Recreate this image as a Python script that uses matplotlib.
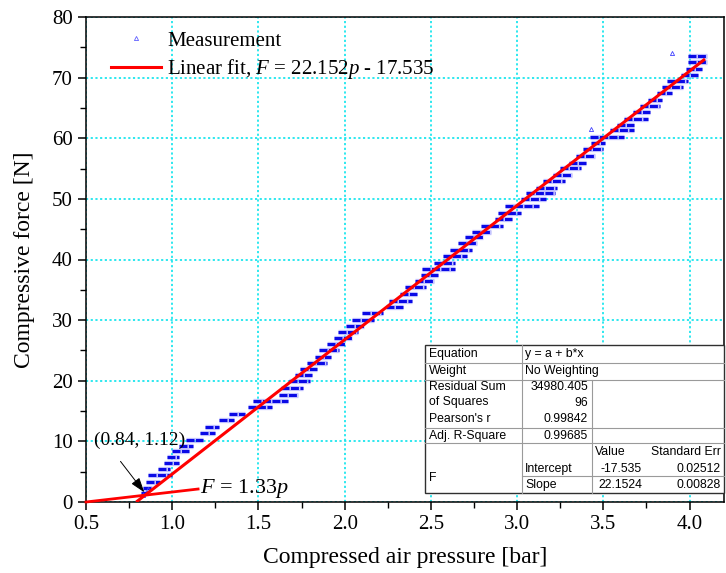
import matplotlib
matplotlib.use("Agg")
import matplotlib.pyplot as plt
from matplotlib.lines import Line2D
from matplotlib.patches import Rectangle
from matplotlib.ticker import MultipleLocator, FormatStrFormatter

plt.rcParams['font.family'] = ['Liberation Serif', 'DejaVu Serif']
plt.rcParams['mathtext.fontset'] = 'custom'
plt.rcParams['mathtext.rm'] = 'Liberation Serif'
plt.rcParams['mathtext.it'] = 'Liberation Serif:italic'

# ---- measured staircase: force level held while pressure ramps ----
step_force = [1.5, 2.3, 3.35, 4.4, 5.45, 6.4, 7.4, 8.35, 9.3, 10.3,
              11.4, 12.4, 13.5, 14.5, 15.6, 16.7, 17.7, 18.8, 19.9, 21.0,
              21.9, 23.0, 24.0, 25.0, 26.0, 27.0, 28.0, 29.1, 30.1, 31.1,
              32.2, 33.2, 34.3, 35.4, 36.5, 37.4, 38.4, 39.5, 40.6, 41.6,
              42.7, 43.7, 44.6, 45.6, 46.6, 47.7, 48.8, 49.9, 50.9, 51.8,
              52.9, 54.0, 55.1, 56.0, 57.1, 58.2, 59.2, 60.2, 61.3, 62.2,
              63.2, 64.3, 65.4, 66.3, 67.4, 68.5, 69.4, 70.4, 71.5, 72.5,
              73.6]
step_p_start = [0.82, 0.83, 0.85, 0.86, 0.92, 0.95, 0.97, 1.00, 1.04, 1.08,
                1.16, 1.19, 1.27, 1.33, 1.44, 1.47, 1.62, 1.63, 1.68, 1.71,
                1.74, 1.78, 1.83, 1.85, 1.90, 1.94, 1.96, 2.01, 2.04, 2.10,
                2.24, 2.26, 2.32, 2.35, 2.41, 2.44, 2.45, 2.52, 2.57, 2.61,
                2.66, 2.70, 2.74, 2.79, 2.87, 2.89, 2.93, 3.02, 3.05, 3.11,
                3.15, 3.21, 3.25, 3.30, 3.34, 3.38, 3.43, 3.42, 3.54, 3.58,
                3.62, 3.67, 3.71, 3.76, 3.81, 3.84, 3.87, 3.95, 3.98, 3.99,
                3.99]
step_p_end = [0.86, 0.88, 0.93, 1.00, 0.99, 1.04, 1.04, 1.10, 1.12, 1.18,
              1.25, 1.27, 1.36, 1.42, 1.58, 1.67, 1.73, 1.76, 1.80, 1.81,
              1.84, 1.90, 1.92, 1.97, 2.00, 2.04, 2.08, 2.11, 2.17, 2.22,
              2.34, 2.39, 2.42, 2.47, 2.52, 2.54, 2.64, 2.64, 2.71, 2.74,
              2.77, 2.80, 2.85, 2.92, 2.97, 3.02, 3.13, 3.17, 3.22, 3.23,
              3.28, 3.32, 3.37, 3.40, 3.45, 3.50, 3.51, 3.62, 3.68, 3.68,
              3.76, 3.77, 3.83, 3.84, 3.90, 3.96, 3.99, 4.05, 4.07, 4.10,
              4.10]
# isolated readings
single_p = [0.83, 0.86, 3.43, 3.90]
single_F = [1.2, 2.2, 61.5, 74.0]

# ---- linear fit ----
fit_slope = 22.152
fit_intercept = -17.535
fit_p = [0.7916, 4.09]

# ---- low-pressure branch and knee ----
knee_p, knee_F = 0.84, 1.12
low_p = [0.5, knee_p, 1.15]
low_F = [0.0, knee_F, knee_F / (knee_p - 0.5) * (1.15 - 0.5)]

# ---- fit report ----
table_rows = [("Equation", "y = a + b*x"),
              ("Weight", "No Weighting")]
rss_text = ["34980.405", "96"]
pearson_r = "0.99842"
adj_r2 = "0.99685"
param_names = ["Intercept", "Slope"]
param_values = ["-17.535", "22.1524"]
param_errors = ["0.02512", "0.00828"]

W, H = 726, 573
fig = plt.figure(figsize=(W / 100, H / 100), dpi=100)
ax_l, ax_r, ax_t, ax_b = 86, 724, 17, 502
ax = fig.add_axes([ax_l / W, 1 - ax_b / H, (ax_r - ax_l) / W, (ax_b - ax_t) / H])

ax.set_xlim(0.5, 4.2)
ax.set_ylim(0, 80)
ax.xaxis.set_major_locator(MultipleLocator(0.5))
ax.xaxis.set_minor_locator(MultipleLocator(0.25))
ax.yaxis.set_major_locator(MultipleLocator(10))
ax.yaxis.set_minor_locator(MultipleLocator(5))
ax.tick_params(which='major', direction='out', length=6, width=1.1,
               labelsize=15, top=False, right=False)
ax.tick_params(which='minor', direction='out', length=4, width=1.0,
               top=False, right=False)
ax.xaxis.set_major_formatter(FormatStrFormatter('%.1f'))
for s in ax.spines.values():
    s.set_linewidth(1.1)

ax.grid(True, which='major', color='#1ee6ee', linestyle=(0, (1.2, 1.4)),
        linewidth=1.3)
ax.set_axisbelow(True)

# staircase measurement
ax.hlines(step_force, step_p_start, step_p_end, colors='#8c8cff',
          linewidth=3.8, alpha=0.5, zorder=2)
ax.hlines(step_force, step_p_start, step_p_end, colors='#0a0ae6',
          linewidth=2.2, linestyles=(0, (2.6, 0.5)), zorder=2)
ax.plot(single_p, single_F, linestyle='none', marker='^', markersize=3,
        markerfacecolor='none', markeredgecolor='#4040ff', markeredgewidth=0.6,
        zorder=2)

# fit line
fit_F = [fit_slope * p + fit_intercept for p in fit_p]
ax.plot(fit_p, fit_F, color='#ff0000', linewidth=2.2, zorder=3,
        solid_capstyle='butt')

# low-pressure line
ax.plot(low_p, low_F, color='#ff0000', linewidth=2.0, zorder=3, clip_on=False)
ax.text(1.16, 2.3, r'$F$ = 1.33$p$', fontsize=16, ha='left', va='center')

# knee label with arrow
ax.text(0.81, 10.1, '(%.2f, %.2f)' % (knee_p, knee_F), fontsize=14,
        ha='center', va='center')
ax.annotate('', xy=(0.838, 1.6), xytext=(0.70, 6.7),
            arrowprops=dict(arrowstyle='-|>,head_length=0.9,head_width=0.3',
                            color='black', lw=0.7, shrinkA=0, shrinkB=0),
            zorder=4)

ax.set_xlabel('Compressed air pressure [bar]', fontsize=17, labelpad=9)
ax.set_ylabel('Compressive force [N]', fontsize=17, labelpad=12)

# legend
handles = [Line2D([], [], linestyle='none', marker='^', markersize=3,
                  markerfacecolor='none', markeredgecolor='#6060ff',
                  markeredgewidth=0.6),
           Line2D([], [], color='#ff0000', linewidth=2.2)]
labels = ['Measurement', r'Linear fit, $F$ = %.3f$p$ - %.3f' % (fit_slope, -fit_intercept)]
ax.legend(handles, labels, loc='upper left', frameon=False, fontsize=15,
          handlelength=2.4, handletextpad=0.3, labelspacing=0.32,
          borderpad=0, borderaxespad=0,
          bbox_to_anchor=((111 - ax_l) / (ax_r - ax_l), (ax_b - 31) / (ax_b - ax_t)))

# ---- fit report table, laid out in figure pixels ----
def fx(x):
    return x / W

def fy(y):
    return 1 - y / H

tab_l, tab_r, tab_t, tab_b = 425, 723.5, 345, 493.3
col1, col2 = 521.7, 592.3
fig.patches.append(Rectangle((fx(tab_l), fy(tab_b)), fx(tab_r) - fx(tab_l),
                             fy(tab_t) - fy(tab_b), transform=fig.transFigure,
                             facecolor='white', edgecolor='#303030',
                             linewidth=1.0, zorder=5))
grid_col = '#9a9a9a'

def hline(y, x0, x1):
    fig.lines.append(Line2D([fx(x0), fx(x1)], [fy(y), fy(y)],
                            transform=fig.transFigure, color=grid_col,
                            linewidth=0.8, zorder=6))

def vline(x, y0, y1):
    fig.lines.append(Line2D([fx(x), fx(x)], [fy(y0), fy(y1)],
                            transform=fig.transFigure, color=grid_col,
                            linewidth=0.8, zorder=6))

for y in (362.7, 380, 428.3, 442.7):
    hline(y, tab_l, tab_r)
hline(476, col1, tab_r)
vline(col1, tab_t, tab_b)
vline(col2, 380, tab_b)

tfont = dict(family=['Liberation Sans', 'DejaVu Sans'], fontsize=8.8,
             va='center', zorder=7)

def ttext(x, y, s, ha='left'):
    fig.text(fx(x), fy(y), s, ha=ha, **tfont)

ttext(429, 354, table_rows[0][0])
ttext(525, 354, table_rows[0][1])
ttext(429, 371, table_rows[1][0])
ttext(525, 371, table_rows[1][1])
ttext(429, 387.5, "Residual Sum")
ttext(429, 402.5, "of Squares")
ttext(429, 419, "Pearson's r")
ttext(588, 387.5, rss_text[0], 'right')
ttext(588, 402.5, rss_text[1], 'right')
ttext(588, 419, pearson_r, 'right')
ttext(429, 436, "Adj. R-Square")
ttext(588, 436, adj_r2, 'right')
ttext(595, 452, "Value")
ttext(721, 452, "Standard Err", 'right')
ttext(429, 478, "F")
for i, yy in enumerate((469, 485)):
    ttext(525, yy, param_names[i])
    ttext(642, yy, param_values[i], 'right')
    ttext(721, yy, param_errors[i], 'right')

fig.savefig('out.png', dpi=100)
